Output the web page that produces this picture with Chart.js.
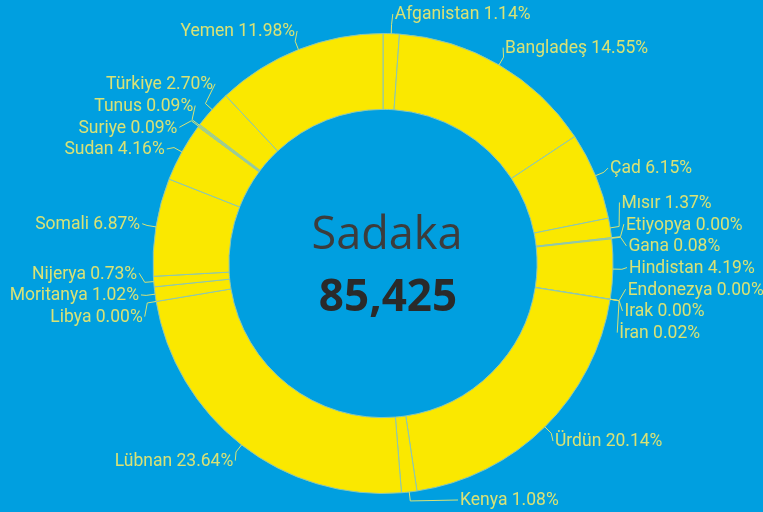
<!DOCTYPE html>
<html>
<head>
<meta charset="utf-8">
<script src="https://cdn.jsdelivr.net/npm/chart.js@4/dist/chart.umd.min.js"></script>
<style>
  html, body { margin: 0; padding: 0; background: #009fe0; }
  #wrap { width: 763px; height: 512px; position: relative; background: #009fe0; }
</style>
</head>
<body>
<div id="wrap"><canvas id="c"></canvas></div>
<script>
const categories = ['Afganistan','Bangladeş','Çad','Mısır','Etiyopya','Gana','Hindistan','Endonezya','Irak','İran','Ürdün','Kenya','Lübnan','Libya','Moritanya','Nijerya','Somali','Sudan','Suriye','Tunus','Türkiye','Yemen'];
const shares = [1.14,14.55,6.15,1.37,0.00,0.08,4.19,0.00,0.00,0.02,20.14,1.08,23.64,0.00,1.02,0.73,6.87,4.16,0.09,0.09,2.70,11.98];
const centerTitle = 'Sadaka';
const centerTotal = '85,425';

const LABEL_COLOR = '#d9e275';

const outLabels = {
  id: 'outLabels',
  afterDatasetsDraw(chart) {
    const meta = chart.getDatasetMeta(0);
    const arcs = meta.data;
    if (!arcs.length) return;
    const ctx = chart.ctx;
    const cx = arcs[0].x, cy = arcs[0].y, R = arcs[0].outerRadius;
    const rL = R + 20;
    const gap = 21.7, minY = 14, maxY = 500;
    const items = arcs.map((a, i) => {
      const mid = (a.startAngle + a.endAngle) / 2;
      return { i, mid, right: Math.cos(mid) >= -1e-9, ny: cy + rL * Math.sin(mid),
               text: categories[i] + ' ' + shares[i].toFixed(2) + '%' };
    });
    function spread(list) {
      list.sort((a, b) => (a.ny - b.ny) || (a.i - b.i));
      const clusters = list.map(it => ({ items: [it], sum: it.ny }));
      const place = c => {
        const n = c.items.length;
        let top = c.sum / n - (n - 1) * gap / 2;
        top = Math.max(minY, Math.min(top, maxY - (n - 1) * gap));
        c.top = top;
      };
      clusters.forEach(place);
      let merged = true;
      while (merged) {
        merged = false;
        for (let k = 0; k < clusters.length - 1; k++) {
          const a = clusters[k], b = clusters[k + 1];
          if (a.top + a.items.length * gap > b.top) {
            a.items = a.items.concat(b.items);
            a.sum += b.sum;
            place(a);
            clusters.splice(k + 1, 1);
            merged = true;
            break;
          }
        }
      }
      clusters.forEach(c => c.items.forEach((it, j) => { it.y = c.top + j * gap; }));
    }
    spread(items.filter(it => it.right));
    spread(items.filter(it => !it.right));

    ctx.save();
    ctx.font = '17.5px Roboto';
    ctx.textBaseline = 'middle';
    ctx.fillStyle = LABEL_COLOR;
    ctx.strokeStyle = LABEL_COLOR;
    ctx.lineWidth = 1;
    items.forEach(it => {
      const dy = it.y - cy;
      const d = Math.sqrt(Math.max(rL * rL - dy * dy, 0));
      const c = Math.cos(it.mid), s = Math.sin(it.mid);
      const x0 = cx + R * c, y0 = cy + R * s;
      const x1 = cx + (R + 9) * c, y1 = cy + (R + 9) * s;
      let tx, ex;
      if (it.right) { tx = cx + d - 4; ex = tx - 2; ctx.textAlign = 'left'; }
      else { tx = cx - d + 4; ex = tx + 2; ctx.textAlign = 'right'; }
      ctx.beginPath();
      ctx.moveTo(x0, y0);
      ctx.lineTo(x1, y1);
      ctx.lineTo(ex, it.y);
      ctx.stroke();
      ctx.fillText(it.text, tx, it.y + 1);
    });
    // center text
    ctx.textAlign = 'center';
    ctx.fillStyle = '#3c3c3c';
    ctx.font = '45px "Open Sans"';
    ctx.fillText(centerTitle, cx + 4, cy - 27);
    ctx.fillStyle = '#2a2a2a';
    ctx.font = 'bold 44px "Open Sans"';
    ctx.fillText(centerTotal, cx + 5, cy + 35);
    ctx.restore();
  }
};

new Chart(document.getElementById('c'), {
  type: 'doughnut',
  data: {
    labels: categories,
    datasets: [{
      data: shares,
      backgroundColor: '#fae800',
      borderColor: '#8cc6b4',
      borderWidth: 1,
      hoverOffset: 0,
      offset: 0
    }]
  },
  options: {
    responsive: true,
    maintainAspectRatio: false,
    animation: false,
    cutout: '67%',
    layout: { padding: { top: 33, bottom: 18, left: 100, right: 97 } },
    plugins: { legend: { display: false }, tooltip: { enabled: false } }
  },
  plugins: [outLabels]
});
</script>
</body>
</html>
